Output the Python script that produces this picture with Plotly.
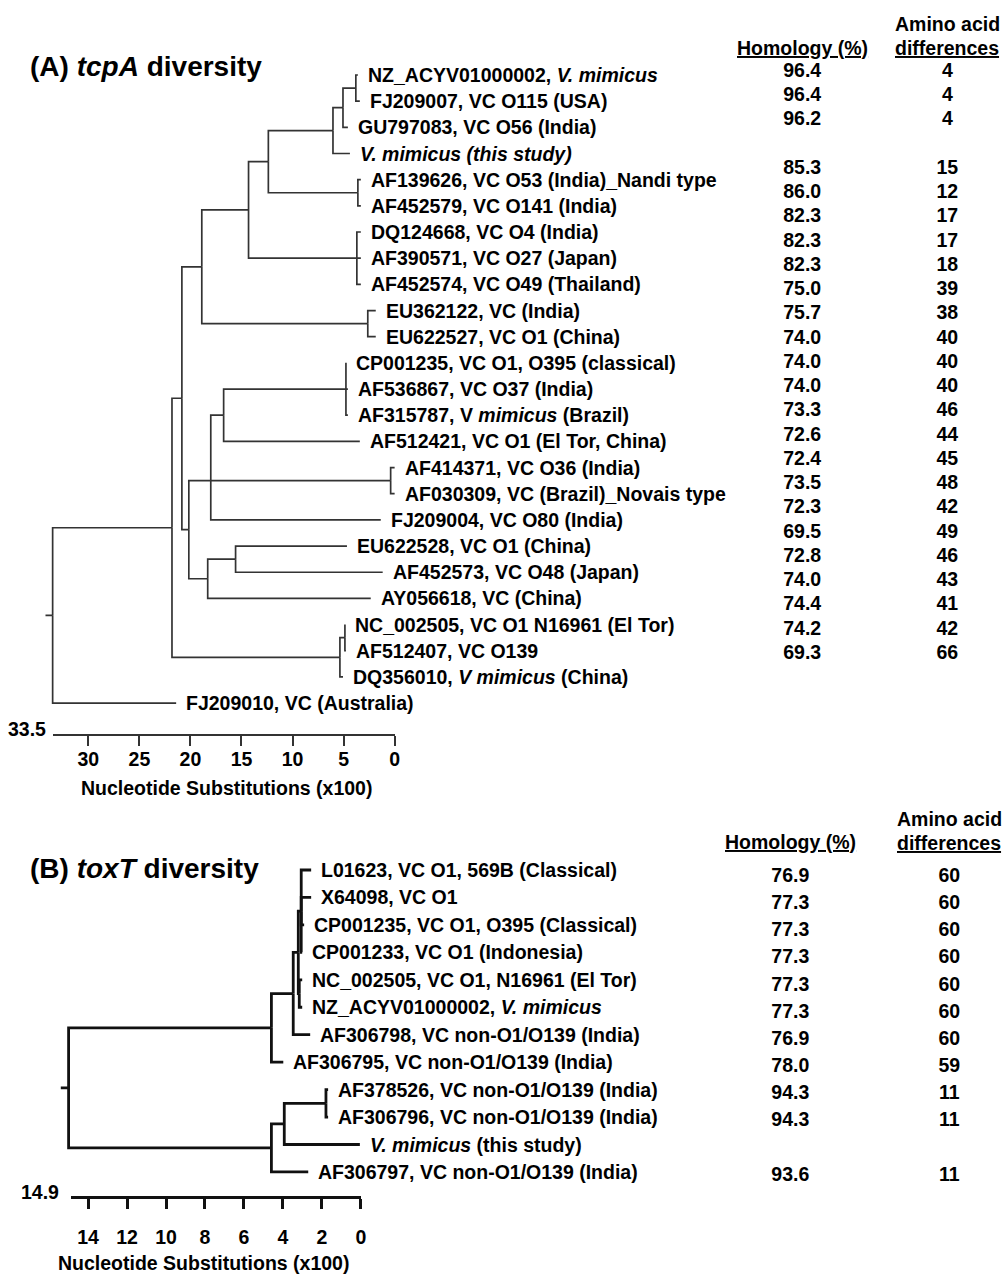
import plotly.graph_objects as go

W, H = 1007, 1275
FONT = "Arial, 'Liberation Sans', Helvetica, sans-serif"
LBL = 19.5

# ---------------- Panel A : tcpA ----------------
labels_A = [
    "NZ_ACYV01000002, <i>V. mimicus</i>",
    "FJ209007, VC O115 (USA)",
    "GU797083, VC O56 (India)",
    "<i>V. mimicus (this study)</i>",
    "AF139626, VC O53 (India)_Nandi type",
    "AF452579, VC O141 (India)",
    "DQ124668, VC O4 (India)",
    "AF390571, VC O27 (Japan)",
    "AF452574, VC O49 (Thailand)",
    "EU362122, VC (India)",
    "EU622527, VC O1 (China)",
    "CP001235, VC O1, O395 (classical)",
    "AF536867, VC O37 (India)",
    "AF315787, V <i>mimicus</i> (Brazil)",
    "AF512421, VC O1 (El Tor, China)",
    "AF414371, VC O36 (India)",
    "AF030309, VC (Brazil)_Novais type",
    "FJ209004, VC O80 (India)",
    "EU622528, VC O1 (China)",
    "AF452573, VC O48 (Japan)",
    "AY056618, VC (China)",
    "NC_002505, VC O1 N16961 (El Tor)",
    "AF512407, VC O139",
    "DQ356010, <i>V mimicus</i> (China)",
    "FJ209010, VC (Australia)",
]
# leaf tip heights (nucleotide substitutions x100)
tips_A = [3.60, 3.41, 4.58, 4.38, 3.31, 3.31, 3.31, 3.31, 3.31, 1.85, 1.85,
          4.77, 4.58, 4.58, 3.41, 0.0, 0.0, 1.36, 4.67, 1.17, 2.34, 4.87,
          4.77, 5.06, 21.4]
# internal nodes: name -> (height, children); int children are leaf indices
nodes_A = {
    "root": (33.5, ["n1", 24]),
    "n1": (21.81, ["n2", "nc"]),
    "n2": (20.84, ["n6", "n3"]),
    "n6": (18.89, ["n7", "eu"]),
    "n7": (14.31, ["n8", "dq"]),
    "n8": (12.37, ["n9", "af139"]),
    "n9": (6.04, ["n10", 3]),
    "n10": (5.06, ["n11", 2]),
    "n11": (3.80, [0, 1]),
    "af139": (3.60, [4, 5]),
    "dq": (3.70, [6, 7, 8]),
    "eu": (2.63, [9, 10]),
    "n3": (20.16, ["n4", "n13"]),
    "n4": (18.01, ["n5", "af414", 17]),
    "n5": (16.75, ["cp", 14]),
    "cp": (4.77, [11, 12, 13]),
    "af414": (0.39, [15, 16]),
    "n13": (18.31, ["n14", 20]),
    "n14": (15.58, [18, 19]),
    "nc": (5.36, ["ncsub", 23]),
    "ncsub": (4.87, [21, 22]),
}
root_stub_A = 0.7
scale_max_A = 33.5
ticks_A = [30, 25, 20, 15, 10, 5, 0]
homology_A = [96.4, 96.4, 96.2, None, 85.3, 86.0, 82.3, 82.3, 82.3, 75.0, 75.7,
              74.0, 74.0, 74.0, 73.3, 72.6, 72.4, 73.5, 72.3, 69.5, 72.8, 74.0,
              74.4, 74.2, 69.3]
aadiff_A = [4, 4, 4, None, 15, 12, 17, 17, 18, 39, 38, 40, 40, 40, 46, 44, 45,
            48, 42, 49, 46, 43, 41, 42, 66]

# ---------------- Panel B : toxT ----------------
labels_B = [
    "L01623, VC O1, 569B (Classical)",
    "X64098, VC O1",
    "CP001235, VC O1, O395 (Classical)",
    "CP001233, VC O1 (Indonesia)",
    "NC_002505, VC O1, N16961 (El Tor)",
    "NZ_ACYV01000002, <i>V. mimicus</i>",
    "AF306798, VC non-O1/O139 (India)",
    "AF306795, VC non-O1/O139 (India)",
    "AF378526, VC non-O1/O139 (India)",
    "AF306796, VC non-O1/O139 (India)",
    "<i>V. mimicus</i> (this study)",
    "AF306797, VC non-O1/O139 (India)",
]
tips_B = [2.55, 2.55, 2.91, 3.01, 3.01, 3.01, 2.60, 3.98, 1.68, 1.68, 0.05, 2.70]
nodes_B = {
    "root": (15.0, ["b1", "b2"]),
    "b1": (4.59, ["b3", 7]),
    "b3": (3.47, ["b4", 6]),
    "b4": (3.21, ["b5", "b6"]),
    "b5": (3.06, [0, 1, 2, 3]),
    "b6": (3.16, [4, 5]),
    "b2": (4.59, ["b7", 11]),
    "b7": (3.93, ["b8", 10]),
    "b8": (1.79, [8, 9]),
}
root_stub_B = 0.4
scale_max_B = 14.9
ticks_B = [14, 12, 10, 8, 6, 4, 2, 0]
homology_B = [76.9, 77.3, 77.3, 77.3, 77.3, 77.3, 76.9, 78.0, 94.3, 94.3, None, 93.6]
aadiff_B = [60, 60, 60, 60, 60, 60, 60, 59, 11, 11, None, 11]


# ---------------- helpers ----------------
def tree_segments(nodes, tips, stub):
    xs, ys = [], []

    def height(c):
        return tips[c] if isinstance(c, int) else nodes[c][0]

    def ypos(c):
        if isinstance(c, int):
            return c
        yy = [ypos(k) for k in nodes[c][1]]
        if len(yy) > 2 and len(yy) % 2 == 1:
            return yy[len(yy) // 2]
        return (yy[0] + yy[-1]) / 2

    def walk(name):
        h, ch = nodes[name]
        y0 = ypos(name)
        for c in ch:
            yc = ypos(c)
            xs.extend([h, h, height(c), None])
            ys.extend([y0, yc, yc, None])
            if not isinstance(c, int):
                walk(c)

    walk("root")
    rh = nodes["root"][0]
    ry = ypos("root")
    xs.extend([rh + stub, rh, None])
    ys.extend([ry, ry, None])
    return xs, ys


def px_dom_x(p0, p1):
    return [p0 / W, p1 / W]


def px_dom_y(top, bottom):
    return [1 - bottom / H, 1 - top / H]


def rng(p_low, p_high, ref_px, ref_val, step, reverse=False):
    s = -1 if reverse else 1
    return [ref_val + s * (p_low - ref_px) / step, ref_val + s * (p_high - ref_px) / step]


def bold(s):
    return dict(family=FONT, size=s, color="black", weight="bold")


fig = go.Figure()
annotations = []

# ---- Panel A tree ----
xa, ya = tree_segments(nodes_A, tips_A, root_stub_A)
fig.add_trace(go.Scatter(x=xa, y=ya, mode="lines", xaxis="x", yaxis="y",
                         line=dict(color="#333333", width=1.7), hoverinfo="skip"))
fig.add_trace(go.Scatter(x=[None], y=[None], xaxis="x2", yaxis="y", hoverinfo="skip"))
for i, lab in enumerate(labels_A):
    annotations.append(dict(x=tips_A[i], y=i, xref="x", yref="y", text=lab,
                            showarrow=False, xanchor="left", yanchor="middle", xshift=8,
                            font=bold(LBL)))

# ---- Panel A table ----
txt_A = [("" if v is None else f"{v:.1f}") for v in homology_A] + \
        [("" if v is None else str(v)) for v in aadiff_A]
fig.add_trace(go.Scatter(x=[0] * len(homology_A) + [1] * len(aadiff_A),
                         y=list(range(len(homology_A))) + list(range(len(aadiff_A))),
                         text=txt_A, mode="text", textposition="middle center",
                         xaxis="x3", yaxis="y3", cliponaxis=False, hoverinfo="skip",
                         textfont=bold(LBL)))

# ---- Panel B tree ----
xb, yb = tree_segments(nodes_B, tips_B, root_stub_B)
fig.add_trace(go.Scatter(x=xb, y=yb, mode="lines", xaxis="x4", yaxis="y4",
                         line=dict(color="#111111", width=2.8), hoverinfo="skip"))
fig.add_trace(go.Scatter(x=[None], y=[None], xaxis="x5", yaxis="y4", hoverinfo="skip"))
for i, lab in enumerate(labels_B):
    annotations.append(dict(x=tips_B[i], y=i, xref="x4", yref="y4", text=lab,
                            showarrow=False, xanchor="left", yanchor="middle", xshift=8,
                            font=bold(LBL)))

# ---- Panel B table ----
txt_B = [("" if v is None else f"{v:.1f}") for v in homology_B] + \
        [("" if v is None else str(v)) for v in aadiff_B]
fig.add_trace(go.Scatter(x=[0] * len(homology_B) + [1] * len(aadiff_B),
                         y=list(range(len(homology_B))) + list(range(len(aadiff_B))),
                         text=txt_B, mode="text", textposition="middle center",
                         xaxis="x6", yaxis="y6", cliponaxis=False, hoverinfo="skip",
                         textfont=bold(LBL)))

# ---- headers / titles ----
UL = "<span style='text-decoration:underline'>{}</span>"
annotations += [
    dict(x=0, y=-1, xref="x3", yref="y3", text=UL.format("Homology (%)"), showarrow=False,
         font=bold(LBL)),
    dict(x=1, y=-2, xref="x3", yref="y3", text="Amino acid", showarrow=False, font=bold(LBL)),
    dict(x=1, y=-1, xref="x3", yref="y3", text=UL.format("differences"), showarrow=False,
         font=bold(LBL)),
    dict(x=0, y=-1, xref="x6", yref="y6", text=UL.format("Homology (%)"), showarrow=False,
         font=bold(LBL), yshift=8),
    dict(x=1, y=-2, xref="x6", yref="y6", text="Amino acid", showarrow=False, font=bold(LBL),
         yshift=4),
    dict(x=1, y=-1, xref="x6", yref="y6", text=UL.format("differences"), showarrow=False,
         font=bold(LBL), yshift=7),
    dict(x=28 / W, y=1 - 67 / H, xref="paper", yref="paper", xanchor="left", yanchor="middle",
         text="(A) <i>tcpA</i> diversity", showarrow=False, font=bold(28)),
    dict(x=28 / W, y=1 - 868 / H, xref="paper", yref="paper", xanchor="left", yanchor="middle",
         text="(B) <i>toxT</i> diversity", showarrow=False, font=bold(28)),
    dict(x=48 / W, y=1 - 729 / H, xref="paper", yref="paper", xanchor="right", yanchor="middle",
         text=f"{scale_max_A}", showarrow=False, font=bold(LBL)),
    dict(x=61 / W, y=1 - 1192 / H, xref="paper", yref="paper", xanchor="right", yanchor="middle",
         text=f"{scale_max_B}", showarrow=False, font=bold(LBL)),
    dict(x=228 / W, y=1 - 788 / H, xref="paper", yref="paper", xanchor="center", yanchor="middle",
         text="Nucleotide Substitutions (x100)", showarrow=False, font=bold(LBL)),
    dict(x=205 / W, y=1 - 1263 / H, xref="paper", yref="paper", xanchor="center", yanchor="middle",
         text="Nucleotide Substitutions (x100)", showarrow=False, font=bold(LBL)),
]

hidden = dict(visible=False, showgrid=False, zeroline=False, fixedrange=True)

# pixel mapping constants
A_zero, A_step = 397, 10.27        # px of 0 and px per unit (panel A)
A_row0, A_rowstep = 75, 26.17
T_A_row0, T_A_rowstep = 72, 24.25
B_zero, B_step = 363, 19.6
B_row0, B_rowstep = 870, 27.45
T_B_row0, T_B_rowstep = 877, 27.18

fig.update_layout(
    width=W, height=H, margin=dict(l=0, r=0, t=0, b=0),
    paper_bgcolor="white", plot_bgcolor="rgba(0,0,0,0)", showlegend=False,
    annotations=annotations,
    xaxis=dict(hidden, domain=px_dom_x(40, 410), range=rng(40, 410, A_zero, 0, A_step, True)),
    yaxis=dict(hidden, domain=px_dom_y(50, 720), range=rng(720, 50, A_row0, 0, A_rowstep)),
    xaxis2=dict(domain=px_dom_x(A_zero - scale_max_A * A_step, A_zero), range=[scale_max_A, 0],
                anchor="free", position=1 - 735 / H, showline=True, linecolor="#333333",
                linewidth=1.8, ticks="outside", ticklen=10, tickwidth=2.2, tickcolor="#333333",
                tickvals=ticks_A, showgrid=False, zeroline=False, fixedrange=True,
                tickfont=bold(LBL), ticklabelstandoff=-3),
    xaxis3=dict(hidden, domain=px_dom_x(700, W), range=rng(700, W, 807, 0, 146)),
    yaxis3=dict(hidden, domain=px_dom_y(0, 700), range=rng(700, 0, T_A_row0, 0, T_A_rowstep)),
    xaxis4=dict(hidden, domain=px_dom_x(50, 385), range=rng(50, 385, B_zero, 0, B_step, True)),
    yaxis4=dict(hidden, domain=px_dom_y(840, 1190), range=rng(1190, 840, B_row0, 0, B_rowstep)),
    xaxis5=dict(domain=px_dom_x(B_zero - scale_max_B * B_step, B_zero), range=[scale_max_B, 0],
                anchor="free", position=1 - 1197 / H, showline=True, linecolor="#111111",
                linewidth=2.8, ticks="outside", ticklen=10, tickwidth=2.8, tickcolor="#111111",
                tickvals=ticks_B, showgrid=False, zeroline=False, fixedrange=True,
                tickfont=bold(LBL), ticklabelstandoff=12),
    xaxis6=dict(hidden, domain=px_dom_x(650, W), range=rng(650, W, 795, 0, 160)),
    yaxis6=dict(hidden, domain=px_dom_y(790, 1210), range=rng(1210, 790, T_B_row0, 0, T_B_rowstep)),
)

fig.write_html("out.html", config={"displayModeBar": False},
               post_script="document.body.style.margin='0px';"
                           "document.body.style.overflow='hidden';")
